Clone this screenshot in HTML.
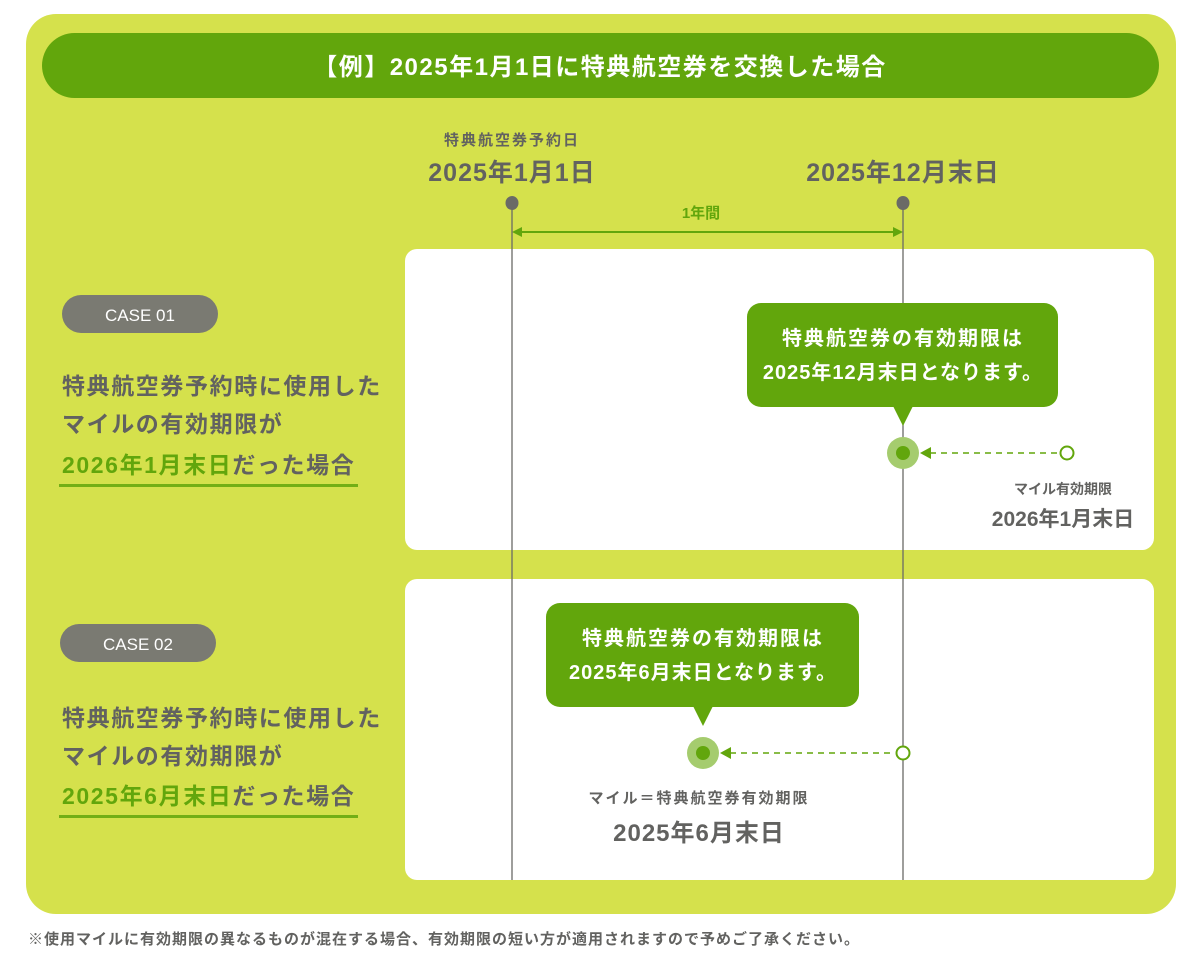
<!DOCTYPE html>
<html><head><meta charset="utf-8"><style>
body{margin:0;background:#fff;}
svg text{font-family:"Liberation Sans","Noto Sans CJK JP",sans-serif;font-weight:bold;}
</style></head><body>
<svg width="1201" height="969" viewBox="0 0 1201 969" xmlns="http://www.w3.org/2000/svg">
<rect x="26" y="14" width="1150" height="900" rx="30" fill="#d5e14c"/>
<rect x="42" y="33" width="1117" height="65" rx="32.5" fill="#62a60c"/>
<text x="600" y="75" text-anchor="middle" font-size="24" letter-spacing="1.5" fill="#fff">【例】2025年1月1日に特典航空券を交換した場合</text>

<text x="512" y="145" text-anchor="middle" font-size="15" letter-spacing="2" fill="#626260">特典航空券予約日</text>
<text x="512" y="181" text-anchor="middle" font-size="25" letter-spacing="1" fill="#626260">2025年1月1日</text>
<text x="903" y="181" text-anchor="middle" font-size="25" letter-spacing="1" fill="#626260">2025年12月末日</text>
<text x="701" y="218" text-anchor="middle" font-size="15" fill="#62a60c">1年間</text>
<line x1="520" y1="232" x2="895" y2="232" stroke="#62a60c" stroke-width="2"/>
<polygon points="512,232 522,227 522,237" fill="#62a60c"/>
<polygon points="903,232 893,227 893,237" fill="#62a60c"/>

<rect x="405" y="249" width="749" height="301" rx="12" fill="#fff"/>
<rect x="405" y="579" width="749" height="301" rx="12" fill="#fff"/>

<line x1="512" y1="203" x2="512" y2="880" stroke="#6a6a66" stroke-width="1.3"/>
<line x1="903" y1="203" x2="903" y2="880" stroke="#6a6a66" stroke-width="1.3"/>
<ellipse cx="512" cy="203" rx="6.5" ry="7" fill="#6a6a66"/>
<ellipse cx="903" cy="203" rx="6.5" ry="7" fill="#6a6a66"/>

<!-- case 1 -->
<rect x="62" y="295" width="156" height="38" rx="19" fill="#7a7a72"/>
<text x="140" y="321" text-anchor="middle" font-size="17" fill="#fff" style="font-weight:normal">CASE 01</text>
<g font-size="23" fill="#626260" letter-spacing="1.6">
<text x="62" y="394">特典航空券予約時に使用した</text>
<text x="62" y="432">マイルの有効期限が</text>
<text x="62" y="473"><tspan fill="#62a60c">2026年1月末日</tspan>だった場合</text>
</g>
<rect x="59" y="484" width="299" height="3" fill="#62a60c" opacity="0.85"/>

<rect x="747" y="303" width="311" height="104" rx="14" fill="#62a60c"/>
<polygon points="893,406 913,406 903,426" fill="#62a60c"/>
<text x="903" y="345" text-anchor="middle" font-size="20" letter-spacing="2" fill="#fff">特典航空券の有効期限は</text>
<text x="903" y="379" text-anchor="middle" font-size="20" letter-spacing="1" fill="#fff">2025年12月末日となります。</text>
<circle cx="903" cy="453" r="16" fill="#a5cc6e"/>
<circle cx="903" cy="453" r="7" fill="#62a60c"/>
<line x1="930" y1="453" x2="1059" y2="453" stroke="#62a60c" stroke-width="1.5" stroke-dasharray="6,5"/>
<polygon points="920,453 931,447 931,459" fill="#62a60c"/>
<circle cx="1067" cy="453" r="6.5" fill="#fff" stroke="#62a60c" stroke-width="2"/>
<text x="1063" y="494" text-anchor="middle" font-size="14" fill="#626260">マイル有効期限</text>
<text x="1063" y="526" text-anchor="middle" font-size="21" fill="#626260">2026年1月末日</text>

<!-- case 2 -->
<rect x="60" y="624" width="156" height="38" rx="19" fill="#7a7a72"/>
<text x="138" y="650" text-anchor="middle" font-size="17" fill="#fff" style="font-weight:normal">CASE 02</text>
<g font-size="23" fill="#626260" letter-spacing="1.6">
<text x="62" y="726">特典航空券予約時に使用した</text>
<text x="62" y="764">マイルの有効期限が</text>
<text x="62" y="804"><tspan fill="#62a60c">2025年6月末日</tspan>だった場合</text>
</g>
<rect x="59" y="815" width="299" height="3" fill="#62a60c" opacity="0.85"/>

<rect x="546" y="603" width="313" height="104" rx="14" fill="#62a60c"/>
<polygon points="693,706 713,706 703,726" fill="#62a60c"/>
<text x="703" y="645" text-anchor="middle" font-size="20" letter-spacing="2" fill="#fff">特典航空券の有効期限は</text>
<text x="703" y="679" text-anchor="middle" font-size="20" letter-spacing="1" fill="#fff">2025年6月末日となります。</text>
<circle cx="703" cy="753" r="16" fill="#a5cc6e"/>
<circle cx="703" cy="753" r="7" fill="#62a60c"/>
<line x1="730" y1="753" x2="895" y2="753" stroke="#62a60c" stroke-width="1.5" stroke-dasharray="6,5"/>
<polygon points="720,753 731,747 731,759" fill="#62a60c"/>
<circle cx="903" cy="753" r="6.5" fill="#fff" stroke="#62a60c" stroke-width="2"/>
<text x="699" y="803" text-anchor="middle" font-size="15" letter-spacing="2" fill="#626260">マイル＝特典航空券有効期限</text>
<text x="699" y="841" text-anchor="middle" font-size="24" letter-spacing="1" fill="#626260">2025年6月末日</text>

<text x="28" y="944" font-size="15" letter-spacing="1.0" fill="#626260">※使用マイルに有効期限の異なるものが混在する場合、有効期限の短い方が適用されますので予めご了承ください。</text>
</svg>
</body></html>
